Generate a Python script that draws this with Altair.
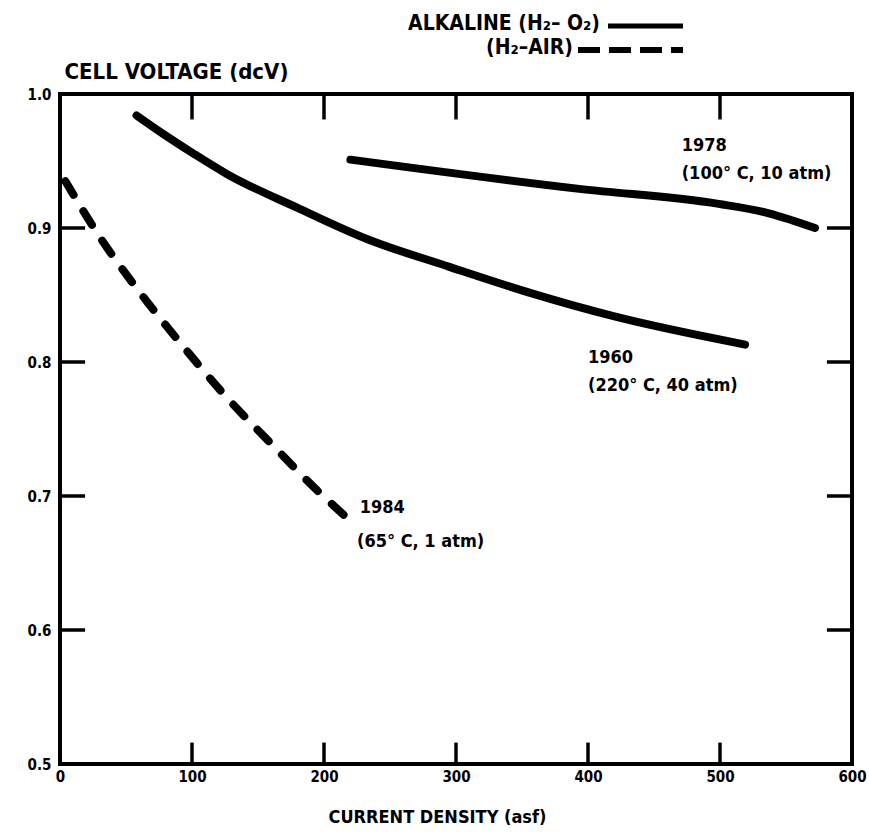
import altair as alt
import pandas as pd

# ---- data ----
x_1960 = [58, 77, 102, 127, 180, 232, 295, 358, 420, 519]
y_1960 = [0.984, 0.971, 0.955, 0.940, 0.915, 0.892, 0.871, 0.851, 0.834, 0.813]

x_1978 = [220, 395, 499, 537, 572]
y_1978 = [0.951, 0.929, 0.918, 0.911, 0.900]

x_1984 = [4, 31, 62, 93, 125, 160, 195, 216]
y_1984 = [0.935, 0.892, 0.850, 0.812, 0.775, 0.739, 0.704, 0.685]

x_tick_values = [100, 200, 300, 400, 500]
y_tick_values = [0.6, 0.7, 0.8, 0.9]
x_label_values = [0, 100, 200, 300, 400, 500, 600]
y_label_values = [0.5, 0.6, 0.7, 0.8, 0.9, 1.0]

note_text = ["1978", "(100\u00b0 C, 10 atm)", "1960", "(220\u00b0 C, 40 atm)",
             "1984", "(65\u00b0 C, 1 atm)"]
note_x = [471, 471, 400, 400, 227, 225]
note_y = [0.961, 0.940, 0.803, 0.782, 0.691, 0.666]

FONT = "DejaVu Sans Condensed, DejaVu Sans, sans-serif"

solid_df = pd.DataFrame(
    {"x": x_1960 + x_1978,
     "y": y_1960 + y_1978,
     "series": ["1960"] * len(x_1960) + ["1978"] * len(x_1978)}
)
dash_df = pd.DataFrame({"x": x_1984, "y": y_1984})
note_df = pd.DataFrame({"x": note_x, "y": note_y, "t": note_text})

tick_rows = []
for t in x_tick_values:
    tick_rows.append({"x": t, "x2": t, "y": 1.0, "y2": 0.981})   # top, inward
    tick_rows.append({"x": t, "x2": t, "y": 0.5, "y2": 0.516})   # bottom, inward
for t in y_tick_values:
    tick_rows.append({"x": 0, "x2": 19, "y": t, "y2": t})        # left, inward
    tick_rows.append({"x": 600, "x2": 581, "y": t, "y2": t})     # right, inward
tick_df = pd.DataFrame(tick_rows)

xscale = alt.Scale(domain=[0, 600], nice=False, zero=False)
yscale = alt.Scale(domain=[0.5, 1.0], nice=False, zero=False)

x_axis = alt.Axis(
    values=x_label_values, ticks=False, domain=False, grid=False,
    labelFont=FONT, labelFontSize=15, labelFontWeight="bold", labelColor="black",
    labelFlush=False, labelOverlap=False, labelPadding=5,
    title="CURRENT DENSITY (asf)", titleFont=FONT, titleFontSize=18,
    titleFontWeight="bold", titleColor="black",
    titleX=377, titleY=58, titleAnchor="start", titleAlign="center",
    titleBaseline="alphabetic",
)
y_axis = alt.Axis(
    values=y_label_values, format=".1f", ticks=False, domain=False, grid=False,
    labelFont=FONT, labelFontSize=15, labelFontWeight="bold", labelColor="black",
    labelPadding=9, labelOverlap=False,
    title="CELL VOLTAGE (dcV)", titleFont=FONT, titleFontSize=22,
    titleFontWeight="bold", titleColor="black", titleAngle=0,
    titleX=4, titleY=-16, titleAlign="left", titleBaseline="alphabetic",
)

base_x = alt.X("x:Q", scale=xscale, axis=x_axis)
base_y = alt.Y("y:Q", scale=yscale, axis=y_axis)

solid = alt.Chart(solid_df).mark_line(
    color="black", strokeWidth=8, strokeCap="round", strokeJoin="round",
    interpolate="monotone"
).encode(x=base_x, y=base_y, detail="series:N")

dashed = alt.Chart(dash_df).mark_line(
    color="black", strokeWidth=8, strokeCap="round", strokeDash=[16, 19],
    interpolate="monotone"
).encode(x="x:Q", y="y:Q")

ticks = alt.Chart(tick_df).mark_rule(color="black", strokeWidth=3.5).encode(
    x="x:Q", x2="x2:Q", y="y:Q", y2="y2:Q"
)

notes = alt.Chart(note_df).mark_text(
    align="left", baseline="middle", font=FONT, fontSize=18,
    fontWeight="bold", color="black"
).encode(x="x:Q", y="y:Q", text="t:N")

# ---- header legend (text + line samples) ----
one = pd.DataFrame({"k": [0]})
leg_t1 = alt.Chart(one).mark_text(
    align="right", baseline="middle", font=FONT, fontSize=21,
    fontWeight="bold", color="black"
).encode(x=alt.value(540), y=alt.value(-70), text=alt.value("ALKALINE (H\u2082\u2013 O\u2082)"))
leg_t2 = alt.Chart(one).mark_text(
    align="right", baseline="middle", font=FONT, fontSize=21,
    fontWeight="bold", color="black"
).encode(x=alt.value(513), y=alt.value(-46), text=alt.value("(H\u2082\u2013AIR)"))
leg_l1 = alt.Chart(one).mark_rule(color="black", strokeWidth=5).encode(
    x=alt.value(548), x2=alt.value(623), y=alt.value(-68)
)
leg_l2 = alt.Chart(one).mark_rule(
    color="black", strokeWidth=6, strokeDash=[22, 9]
).encode(x=alt.value(518), x2=alt.value(623), y=alt.value(-44))

chart = alt.layer(
    solid, dashed, ticks, notes, leg_t1, leg_t2, leg_l1, leg_l2
).properties(
    width=792, height=670,
    autosize=alt.AutoSizeParams(type="none"),
    padding={"left": 60, "top": 94, "right": 17, "bottom": 75},
    background="white",
).configure_view(stroke="black", strokeWidth=4)

chart.save("out.html", embed_options={"renderer": "svg", "actions": False})
